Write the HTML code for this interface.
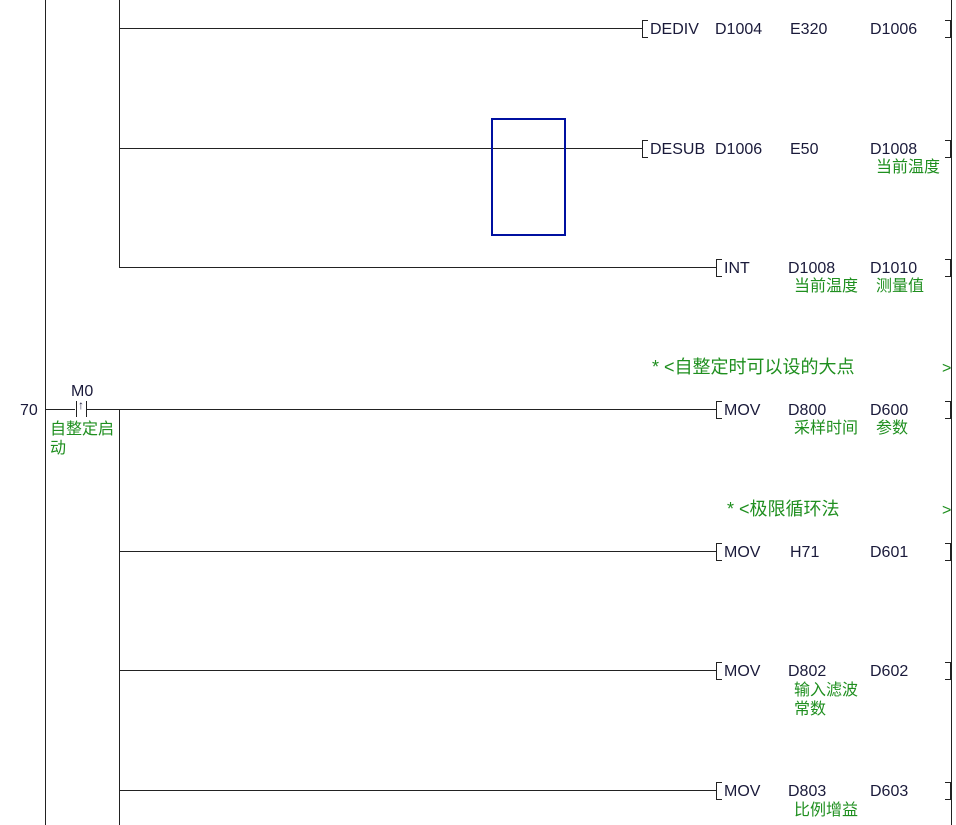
<!DOCTYPE html>
<html><head><meta charset="utf-8"><style>
body{margin:0;width:956px;height:825px;background:#fff;position:relative;overflow:hidden;font-family:"Liberation Sans","Noto Sans CJK SC",sans-serif;font-size:16px;color:#1a1a3a}
.a{position:absolute;white-space:nowrap;line-height:17px}
.g{color:#1f8f1f}
.c{font-size:18px;line-height:18px}
.h{position:absolute;height:1px;background:#222}
.v{position:absolute;width:1px;background:#222}
.lb{position:absolute;width:5px;height:16px;border:1px solid #222;border-right:none}
.rb{position:absolute;width:5px;height:16px;border:1px solid #222;border-left:none}
</style></head><body>
<div class="v" style="left:45px;top:0;height:825px"></div>
<div class="v" style="left:951px;top:0;height:825px"></div>
<div class="v" style="left:119px;top:0;height:268px"></div>
<div class="v" style="left:119px;top:409px;height:416px"></div>

<div class="h" style="left:119px;top:28px;width:523px"></div>
<div class="h" style="left:119px;top:148px;width:523px"></div>
<div class="h" style="left:119px;top:267px;width:597px"></div>
<div class="h" style="left:45px;top:409px;width:30px"></div>
<div class="h" style="left:87px;top:409px;width:629px"></div>
<div class="h" style="left:119px;top:551px;width:597px"></div>
<div class="h" style="left:119px;top:670px;width:597px"></div>
<div class="h" style="left:119px;top:790px;width:597px"></div>

<div class="lb" style="left:642px;top:20px"></div><div class="rb" style="left:945px;top:20px"></div>
<div class="lb" style="left:642px;top:140px"></div><div class="rb" style="left:945px;top:140px"></div>
<div class="lb" style="left:716px;top:259px"></div><div class="rb" style="left:945px;top:259px"></div>
<div class="lb" style="left:716px;top:401px"></div><div class="rb" style="left:945px;top:401px"></div>
<div class="lb" style="left:716px;top:543px"></div><div class="rb" style="left:945px;top:543px"></div>
<div class="lb" style="left:716px;top:662px"></div><div class="rb" style="left:945px;top:662px"></div>
<div class="lb" style="left:716px;top:782px"></div><div class="rb" style="left:945px;top:782px"></div>

<div style="position:absolute;left:491px;top:118px;width:71px;height:114px;border:2px solid #0010a0"></div>

<div class="a" style="left:650px;top:21px">DEDIV</div><div class="a" style="left:715px;top:21px">D1004</div><div class="a" style="left:790px;top:21px">E320</div><div class="a" style="left:870px;top:21px">D1006</div>
<div class="a" style="left:650px;top:141px">DESUB</div><div class="a" style="left:715px;top:141px">D1006</div><div class="a" style="left:790px;top:141px">E50</div><div class="a" style="left:870px;top:141px">D1008</div>
<div class="a g" style="left:876px;top:159px">当前温度</div>
<div class="a" style="left:724px;top:260px">INT</div><div class="a" style="left:788px;top:260px">D1008</div><div class="a" style="left:870px;top:260px">D1010</div>
<div class="a g" style="left:794px;top:278px">当前温度</div><div class="a g" style="left:876px;top:278px">测量值</div>

<div class="a g c" style="left:652px;top:358px">* &lt;自整定时可以设的大点</div><div class="a g" style="left:942px;top:360px">&gt;</div>
<div class="a" style="left:20px;top:402px">70</div>
<div class="a" style="left:71px;top:383px">M0</div>
<div class="v" style="left:76px;top:401px;height:16px"></div><div class="v" style="left:86px;top:401px;height:16px"></div>
<div class="a" style="left:78px;top:397px;font-size:12px">↑</div>
<div class="a g" style="left:50px;top:421px">自整定启</div><div class="a g" style="left:50px;top:440px">动</div>
<div class="a" style="left:724px;top:402px">MOV</div><div class="a" style="left:788px;top:402px">D800</div><div class="a" style="left:870px;top:402px">D600</div>
<div class="a g" style="left:794px;top:420px">采样时间</div><div class="a g" style="left:876px;top:420px">参数</div>

<div class="a g c" style="left:727px;top:500px">* &lt;极限循环法</div><div class="a g" style="left:942px;top:502px">&gt;</div>
<div class="a" style="left:724px;top:544px">MOV</div><div class="a" style="left:790px;top:544px">H71</div><div class="a" style="left:870px;top:544px">D601</div>
<div class="a" style="left:724px;top:663px">MOV</div><div class="a" style="left:788px;top:663px">D802</div><div class="a" style="left:870px;top:663px">D602</div>
<div class="a g" style="left:794px;top:682px">输入滤波</div><div class="a g" style="left:794px;top:701px">常数</div>
<div class="a" style="left:724px;top:783px">MOV</div><div class="a" style="left:788px;top:783px">D803</div><div class="a" style="left:870px;top:783px">D603</div>
<div class="a g" style="left:794px;top:802px">比例增益</div>
</body></html>
